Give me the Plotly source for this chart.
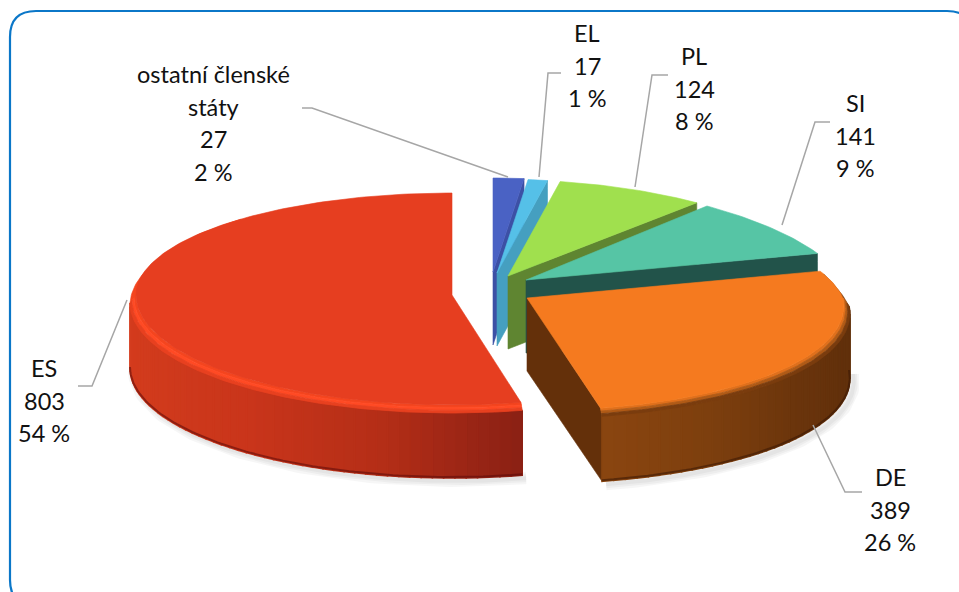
import math
import plotly.graph_objects as go

# ---- data ----
categories = ["ostatní členské státy", "EL", "PL", "SI", "DE", "ES"]
values = [27, 17, 124, 141, 389, 803]
percents = [2, 1, 8, 9, 26, 54]

# ---- styling / projection ----
W, H = 959, 592
TOP = ["#4a62c4", "#55c0e8", "#a0e04e", "#56c5a5", "#f57a1f", "#e63e20"]
FACE = ["#3c50a5", "#459fc0", "#5f8531", "#22534a", "#64300a", "#8a2014"]
WALL = {
    4: ["#8a4510", "#7d3f0e", "#6c350c", "#62300b", "#5f2f0a"],
    5: ["#d43c1e", "#d03a1c", "#c9351b", "#b52e17", "#8a2014"],
}
BEVEL_COLORS = {
    4: ["#e0701c", "#b05a16", "#7a3c0e"],
    5: ["#f4451f", "#ff4a24", "#e8401f"],
}
RIM_END = {4: (90, 76, "#7a3c0e"), 5: (270, 318, "#f4451f")}
APEX = [(493, 272), (497, 273), (508, 276), (526, 280), (527, 298), (452, 295)]
RY_BACK = [94, 94, 96, 97, 98, 102]
RY_FRONT = [110, 110, 110, 110, 113, 110]
K_BACK = [0.13, 0.13, 0.10, 0.15, 0.13, 0.0]
K_FRONT = [0, 0, 0, 0, 0.07, 0]
R_TOP, R_WALL, BEVEL, DEPTH = 316, 322, 8, 73

FONT = "Lato"
FONT_SIZE = 23.5
LINE_GAP = 32.5
LABEL_POS = [(213, 74), (587, 33), (694, 56), (855, 103), (890, 477), (44, 368)]
LABEL_LINES = [["ostatní členské", "státy"], ["EL"], ["PL"], ["SI"], ["DE"], ["ES"]]
LEADERS = [
    [(302, 108), (312, 108), (508, 177)],
    [(561, 73), (548, 73), (539, 177)],
    [(668, 75), (652, 75), (635, 187)],
    [(830, 122), (815, 122), (782, 225)],
    [(862, 492), (845, 492), (813, 425)],
    [(78, 386), (92, 386), (127, 300)],
]

total = sum(values)
edges = [0.0]
for v in values:
    edges.append(edges[-1] + v / total * 360)
edges[-1] = 360.0


def pt(i, deg, radius, z=0.0):
    a = math.radians(deg)
    s, c = math.sin(a), math.cos(a)
    f = 1 - K_BACK[i] * c if c > 0 else 1 - K_FRONT[i] * c
    ry = RY_BACK[i] if c > 0 else RY_FRONT[i]
    cx, cy = APEX[i]
    return cx + radius * s * f, cy - ry * c + z


def arc(i, a0, a1, radius, z=0.0, step=1.0):
    n = max(2, int(abs(a1 - a0) / step) + 1)
    return [pt(i, a0 + (a1 - a0) * k / (n - 1), radius, z) for k in range(n)]


def mix(stops, t):
    def rgb(h):
        return [int(h[j:j + 2], 16) for j in (1, 3, 5)]
    p = t * (len(stops) - 1)
    k = min(int(p), len(stops) - 2)
    u = p - k
    a, b = rgb(stops[k]), rgb(stops[k + 1])
    return "rgb(%d,%d,%d)" % tuple(round(a[j] + (b[j] - a[j]) * u) for j in range(3))


fig = go.Figure()


def poly(points, color, lw=0.6):
    xs = [p[0] for p in points] + [points[0][0]]
    ys = [p[1] for p in points] + [points[0][1]]
    fig.add_trace(go.Scatter(x=xs, y=ys, mode="lines", fill="toself", fillcolor=color,
                             line=dict(color=color, width=lw), hoverinfo="skip", showlegend=False))


def path(points, color, lw):
    fig.add_trace(go.Scatter(x=[p[0] for p in points], y=[p[1] for p in points], mode="lines",
                             line=dict(color=color, width=lw), hoverinfo="skip", showlegend=False))


# soft shadows below the two front slices
for i in (4, 5):
    a0, a1 = max(edges[i], 90), min(edges[i + 1], 270)
    under = [(x + 4, y + 3) for x, y in arc(i, a0, a1, R_WALL, DEPTH)]
    for lw in (12, 8, 4):
        path(under, "rgba(0,0,0,0.035)", lw)

# slices, back to front
for i in [0, 1, 2, 3, 5, 4]:
    a0, a1 = edges[i], edges[i + 1]
    apex = APEX[i]
    # flat cut face on the clockwise end of the slice
    if i <= 4:
        c = pt(i, a1, R_TOP)
        poly([apex, c, pt(i, a1, R_WALL if i == 4 else R_TOP, BEVEL),
              pt(i, a1, R_WALL if i == 4 else R_TOP, DEPTH), (apex[0], apex[1] + DEPTH)], FACE[i])
    # rim tapering away from the front part of the wall
    if i in RIM_END:
        s0, s1, col = RIM_END[i]
        n = int(abs(s1 - s0))
        outer = []
        for k in range(n + 1):
            u = k / n
            outer.append(pt(i, s0 + (s1 - s0) * u, R_WALL + (R_TOP - R_WALL) * u, BEVEL * (1 - u)))
        poly(outer + arc(i, s1, s0, R_TOP - 1), col, 0.6)
    # outer wall, front part only
    f0, f1 = max(a0, 90), min(a1, 270)
    if f1 > f0 and i in WALL:
        n = int((f1 - f0) / 2)
        for k in range(n):
            u0 = f0 + (f1 - f0) * k / n
            u1 = f0 + (f1 - f0) * (k + 1) / n
            t = (k + 0.5) / n
            col = mix(WALL[i], 1 - t)
            top = arc(i, u0, u1, R_WALL, BEVEL, 0.5)
            bot = arc(i, u1, u0, R_WALL, DEPTH, 0.5)
            poly(top + bot, col, 1.6)
        path(arc(i, f0, f1, R_WALL, DEPTH - 1), "rgba(90,10,10,0.55)" if i == 5 else "rgba(60,25,5,0.6)", 2)
        # bevel between the top face and the wall
        steps = BEVEL_COLORS[i]
        m = len(steps)
        for j, col in enumerate(steps):
            r0 = R_TOP + (R_WALL - R_TOP) * j / m
            r1 = R_TOP + (R_WALL - R_TOP) * (j + 1) / m
            z0, z1 = BEVEL * j / m, BEVEL * (j + 1) / m
            poly(arc(i, f0, f1, r0, z0) + arc(i, f1, f0, r1, z1), col, 0.8)
    # top face
    poly([apex] + arc(i, a0, a1, R_TOP), TOP[i])

# leader lines
for leader in LEADERS:
    path(leader, "#a6a6a6", 1.5)

# labels
notes = []
for i, (x, y) in enumerate(LABEL_POS):
    lines = LABEL_LINES[i] + [str(values[i]), "%d %%" % percents[i]]
    for k, line in enumerate(lines):
        notes.append(dict(x=x, y=y + k * LINE_GAP, xref="x", yref="y", text=line, showarrow=False,
                          xanchor="center", yanchor="middle",
                          font=dict(family=FONT, size=FONT_SIZE, color="#111111")))

# rounded frame, running off the right and bottom of the picture
fx0, fy0, fx1, fy1, rad = 10, 11, 973, 606, 26
frame = (f"M{fx0},{fy1-rad} L{fx0},{fy0+rad} Q{fx0},{fy0} {fx0+rad},{fy0} "
         f"L{fx1-rad},{fy0} Q{fx1},{fy0} {fx1},{fy0+rad} L{fx1},{fy1-rad} "
         f"Q{fx1},{fy1} {fx1-rad},{fy1} L{fx0+rad},{fy1} Q{fx0},{fy1} {fx0},{fy1-rad} Z")

fig.update_layout(
    width=W, height=H, margin=dict(l=0, r=0, t=0, b=0),
    paper_bgcolor="white", plot_bgcolor="white", showlegend=False,
    xaxis=dict(range=[0, W], visible=False, fixedrange=True),
    yaxis=dict(range=[H, 0], visible=False, fixedrange=True),
    annotations=notes,
    shapes=[dict(type="path", path=frame, xref="x", yref="y", layer="below",
                 line=dict(color="#0b77c8", width=2.2))],
)
fig.write_html("out.html", config={"displayModeBar": False},
               post_script="document.body.style.margin='0';document.body.style.overflow='hidden';")
